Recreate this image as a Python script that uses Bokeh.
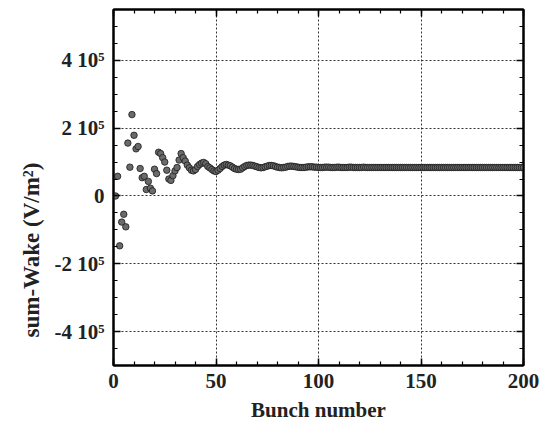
from bokeh.plotting import figure
from bokeh.models import (ColumnDataSource, LinearAxis, SingleIntervalTicker,
                          Range1d, Grid, Title, CustomLabelingPolicy)
from bokeh.embed import file_html
from bokeh.resources import INLINE

# Summed wake seen by each bunch of the train, in kV/m^2
bunch = list(range(1, 201))
wake_kv = [
    0, 58, -147, -77, -54, -91, 156, 85, 240, 179,
    139, 146, 81, 54, 58, 19, 43, 23, 15, 79,
    66, 129, 125, 113, 100, 76, 50, 46, 60, 74,
    84, 106, 125, 113, 103, 91, 83, 76, 74, 78,
    87, 93, 97, 99, 95, 87, 83, 78, 74, 72,
    76, 81, 87, 91, 93, 91, 89, 85, 81, 79,
    78, 79, 83, 87, 90, 91, 91, 90, 88, 86,
    84, 83, 84, 86, 88, 90, 90, 89, 87, 85,
    84, 83, 84, 85, 87, 88, 88, 87, 86, 85,
    84, 84, 84, 85, 86, 86, 86, 85, 85, 84,
    84, 84, 85, 85, 85, 84, 84, 84, 85, 85,
    84, 84, 84, 84, 85, 85, 84, 84, 84, 84,
    84, 85, 84, 84, 84, 84, 84, 84, 84, 84,
    84, 84, 84, 84, 84, 84, 84, 84, 84, 84,
    84, 84, 84, 84, 84, 84, 84, 84, 84, 84,
    84, 84, 84, 84, 84, 84, 84, 84, 84, 84,
    84, 84, 84, 84, 84, 84, 84, 84, 84, 84,
    84, 84, 84, 84, 84, 84, 84, 84, 84, 84,
    84, 84, 84, 84, 84, 84, 84, 84, 84, 84,
    84, 84, 84, 84, 84, 84, 84, 84, 84, 84,
]

y_tick_values = [-400000, -200000, 0, 200000, 400000]
y_tick_labels = ["-4 10\u2075", "-2 10\u2075", "0", "2 10\u2075", "4 10\u2075"]

x_label = "Bunch number"
y_label = "sum-Wake (V/m\u00b2)"

FONT = "Liberation Serif"
INK = "#222222"

source = ColumnDataSource(dict(bunch=bunch, wake=[v * 1e3 for v in wake_kv]))

p = figure(width=545, height=430, output_backend="svg", toolbar_location=None,
           x_range=Range1d(0, 200), y_range=Range1d(-5e5, 5.5e5),
           x_axis_type=None, y_axis_type=None,
           min_border_left=113, min_border_right=22,
           min_border_top=9, min_border_bottom=65)
p.outline_line_color = "black"
p.outline_line_width = 2
p.background_fill_color = "white"
p.border_fill_color = "white"

xticker = SingleIntervalTicker(interval=50, num_minor_ticks=5)
yticker = SingleIntervalTicker(interval=200000, num_minor_ticks=4)

# mirror axes on top/right carry only ticks, so their labels are dropped
hide_labels = CustomLabelingPolicy(code="for (const i of indices) indices.unset(i)")


def style_axis(ax, show_labels):
    ax.axis_line_color = "black"
    ax.axis_line_width = 2
    ax.major_tick_in = 7
    ax.major_tick_out = 0
    ax.minor_tick_in = 4
    ax.minor_tick_out = 0
    ax.major_tick_line_color = "black"
    ax.minor_tick_line_color = "black"
    ax.major_tick_line_width = 1.5
    ax.minor_tick_line_width = 1.2
    ax.major_label_text_font = FONT
    ax.major_label_text_font_style = "bold"
    ax.major_label_text_color = INK
    if show_labels:
        ax.major_label_text_font_size = "21px"
        ax.major_label_standoff = 8
    else:
        ax.major_label_text_font_size = "0px"
        ax.major_label_standoff = 0
        ax.major_label_policy = hide_labels


xb = LinearAxis(ticker=xticker, axis_label=x_label)
style_axis(xb, True)
xb.axis_label_text_font = FONT
xb.axis_label_text_font_style = "bold"
xb.axis_label_text_font_size = "21px"
xb.axis_label_text_color = INK
xb.axis_label_standoff = 7
p.add_layout(xb, "below")

yl = LinearAxis(ticker=yticker,
                major_label_overrides=dict(zip(y_tick_values, y_tick_labels)))
style_axis(yl, True)
yl.major_label_standoff = 9
p.add_layout(yl, "left")

# vertical axis title, sitting outside the tick labels
p.add_layout(Title(text=y_label, align="left", offset=28, standoff=16,
                   text_font=FONT, text_font_style="bold",
                   text_font_size="23px", text_color=INK), "left")

xt = LinearAxis(ticker=xticker)
style_axis(xt, False)
p.add_layout(xt, "above")

yr = LinearAxis(ticker=yticker)
style_axis(yr, False)
p.add_layout(yr, "right")

for dim, tk in ((0, xticker), (1, yticker)):
    p.add_layout(Grid(dimension=dim, ticker=tk, grid_line_color="#333333",
                      grid_line_width=1, grid_line_dash="2 2"))

p.scatter("bunch", "wake", source=source, marker="circle", size=6.5,
          fill_color="#6a6a6a", line_color="#1a1a1a", line_width=0.8)

open("out.html", "w").write(file_html(p, INLINE))
